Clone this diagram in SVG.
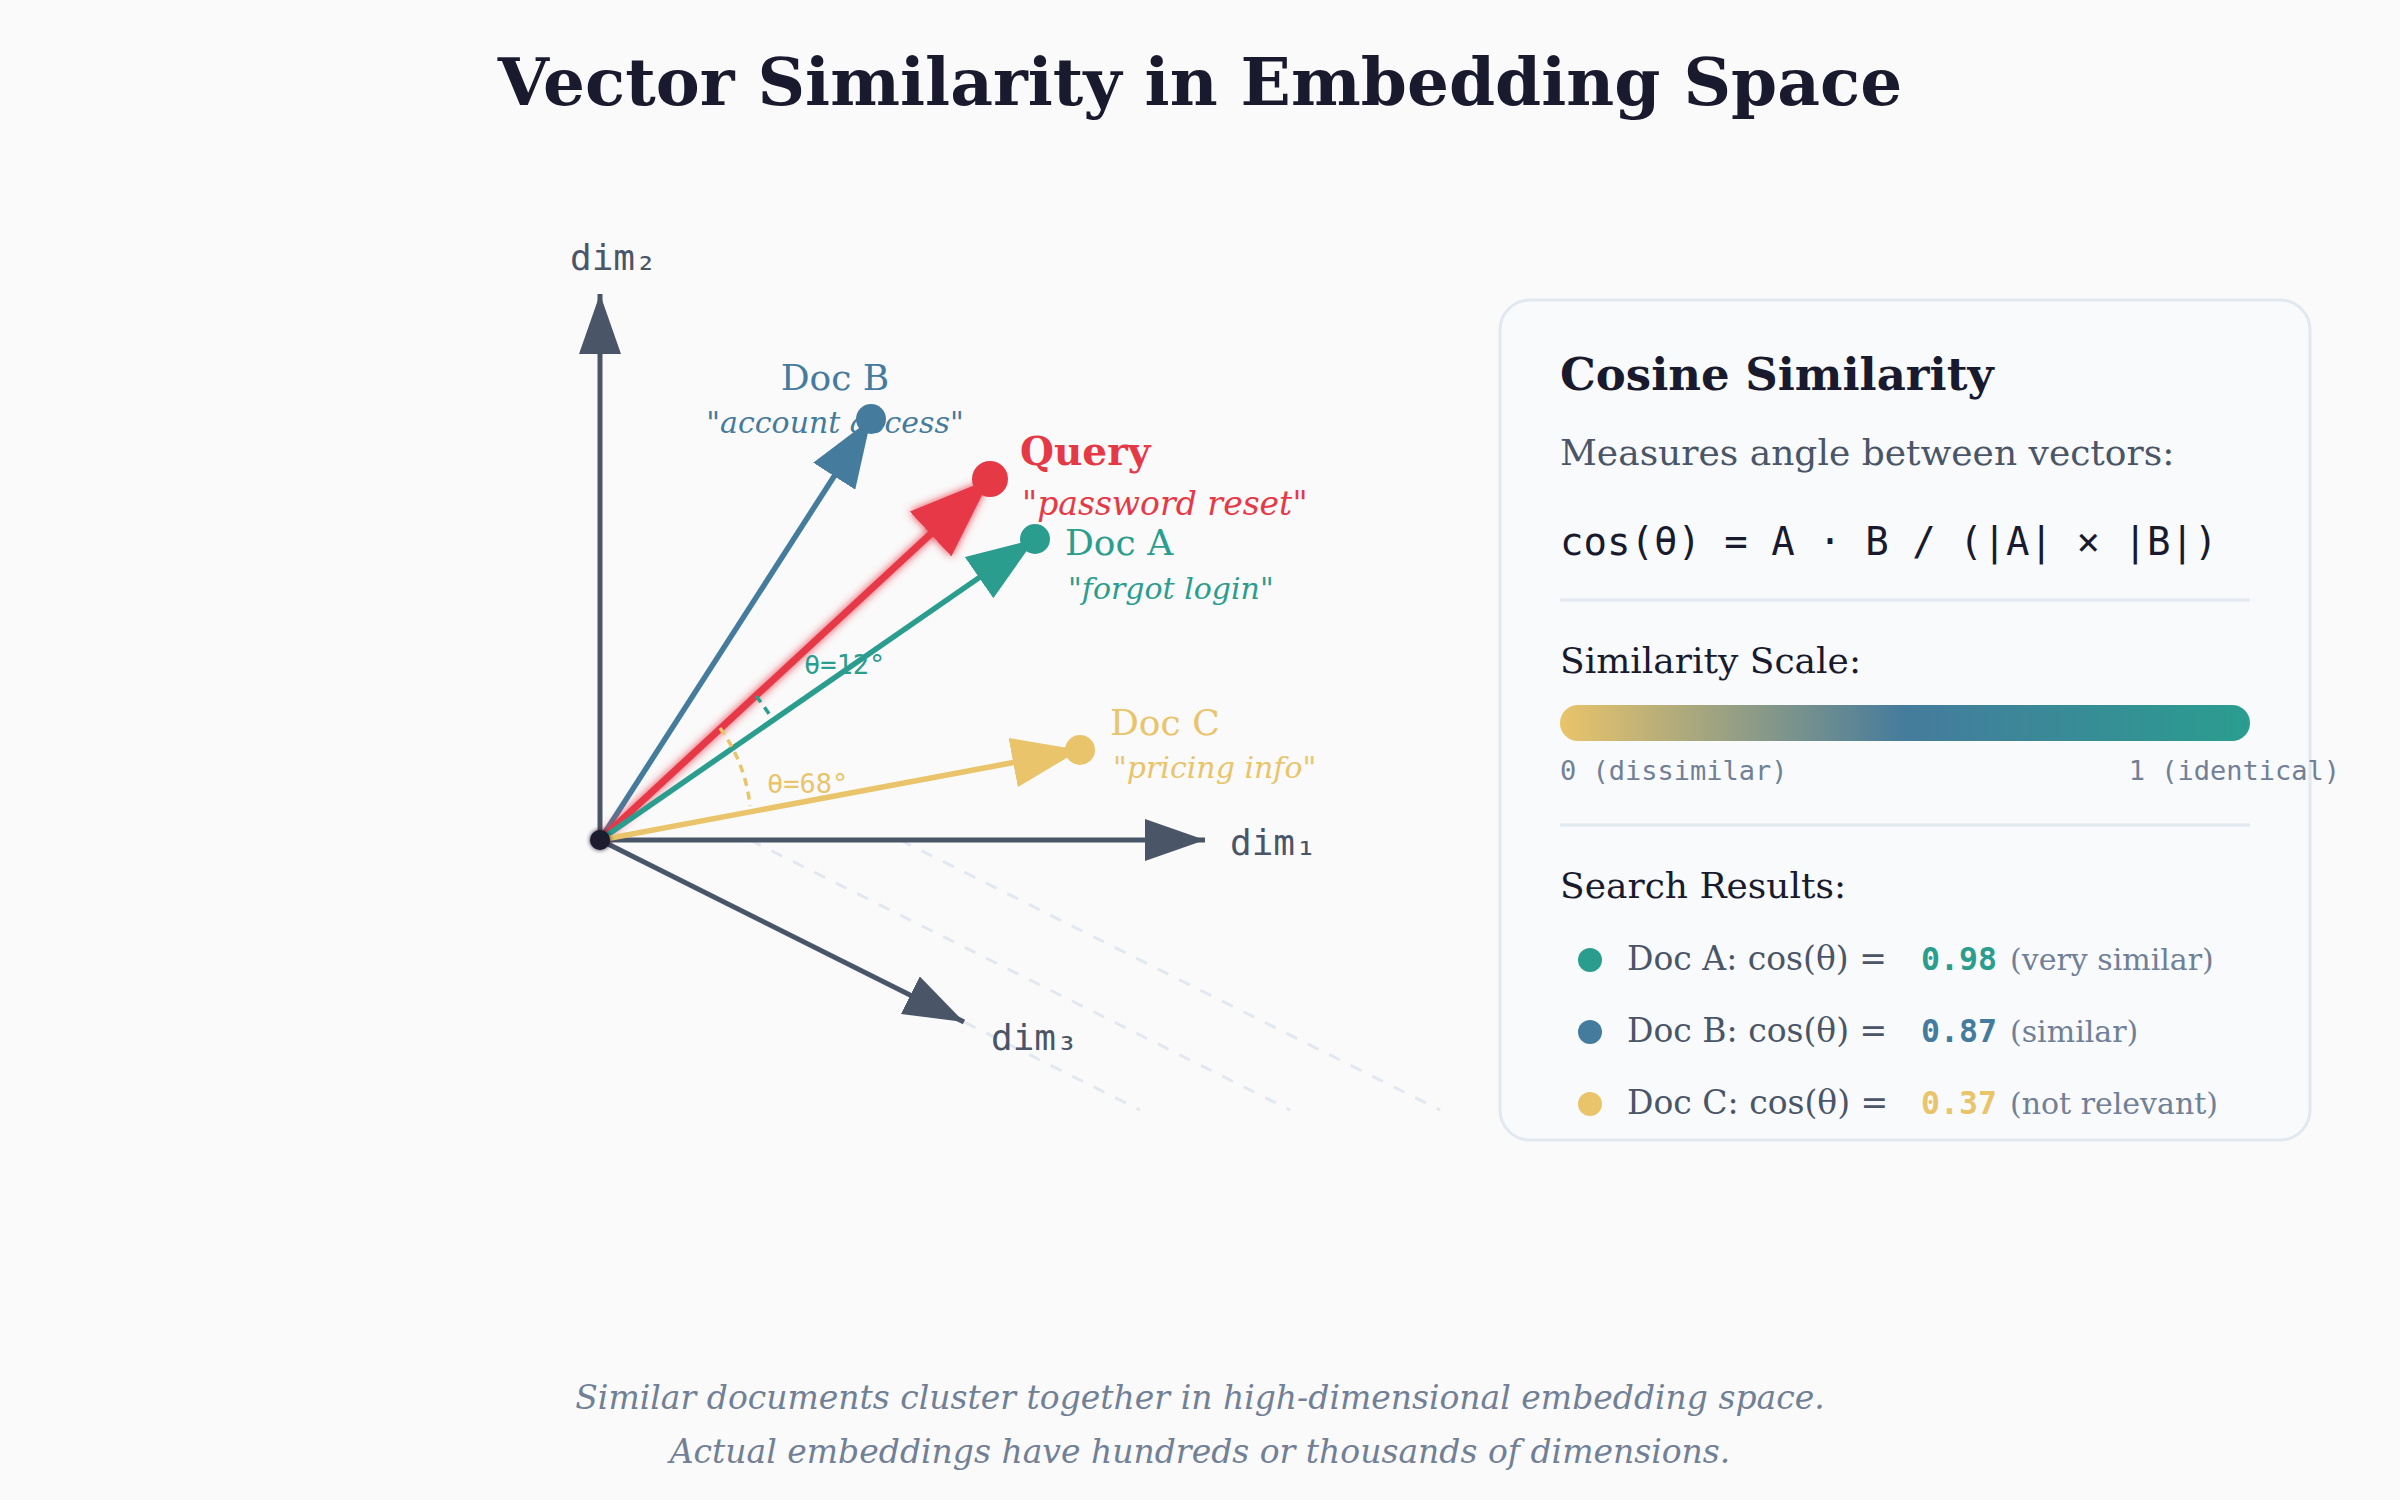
<svg xmlns="http://www.w3.org/2000/svg" width="2400" height="1500" viewBox="0 0 2400 1500">
<style>
.serif{font-family:"DejaVu Serif","Liberation Serif",serif}
.mono{font-family:"DejaVu Sans Mono","Liberation Mono",monospace}
.axis{stroke:#4a5568;stroke-width:5;fill:none}
.grid{stroke:#e2e8f0;stroke-width:3;stroke-dasharray:12 12;fill:none}
.dimlbl{font-size:36px;fill:#4a5568}
.row{font-size:33px;fill:#4a5568}
.val{font-size:31.5px;font-weight:bold}
.note{font-size:30px;fill:#718096}
.qt{font-style:italic;font-size:30px}
.doc{font-size:36px}
.ang{font-size:27px}
</style>
<defs>
<marker id="axisHead" markerUnits="userSpaceOnUse" markerWidth="60" markerHeight="42" viewBox="0 0 60 42" refX="60" refY="21" orient="auto"><path d="M0,0 L60,21 L0,42 Z" fill="#4a5568"/></marker>
<marker id="headA" markerUnits="userSpaceOnUse" markerWidth="68" markerHeight="50" viewBox="0 0 68 50" refX="68" refY="25" orient="auto"><path d="M0,0 L68,25 L0,50 Z" fill="#2a9d8f"/></marker>
<marker id="headB" markerUnits="userSpaceOnUse" markerWidth="68" markerHeight="50" viewBox="0 0 68 50" refX="68" refY="25" orient="auto"><path d="M0,0 L68,25 L0,50 Z" fill="#457b9d"/></marker>
<marker id="headC" markerUnits="userSpaceOnUse" markerWidth="68" markerHeight="50" viewBox="0 0 68 50" refX="68" refY="25" orient="auto"><path d="M0,0 L68,25 L0,50 Z" fill="#e9c46a"/></marker>
<marker id="headQ" markerUnits="userSpaceOnUse" markerWidth="81" markerHeight="61" viewBox="0 0 81 61" refX="81" refY="30.5" orient="auto"><path d="M0,0 L81,30.5 L0,61 Z" fill="#e63946"/></marker>
<filter id="glow" x="-20%" y="-20%" width="140%" height="140%"><feGaussianBlur in="SourceGraphic" stdDeviation="4" result="b"/><feMerge><feMergeNode in="b"/><feMergeNode in="SourceGraphic"/></feMerge></filter>
<filter id="soft" x="-50%" y="-50%" width="200%" height="200%"><feGaussianBlur in="SourceGraphic" stdDeviation="2" result="b"/><feMerge><feMergeNode in="b"/><feMergeNode in="SourceGraphic"/></feMerge></filter>
<linearGradient id="scale" x1="0" y1="0" x2="1" y2="0"><stop offset="0" stop-color="#e9c46a"/><stop offset="0.5" stop-color="#457b9d"/><stop offset="1" stop-color="#2a9d8f"/></linearGradient>
</defs>
<rect width="2400" height="1500" fill="#fafafa"/>
<text class="serif" x="1200" y="105" text-anchor="middle" font-size="66" font-weight="bold" fill="#1a1a2e">Vector Similarity in Embedding Space</text>

<g id="grid">
<line class="grid" x1="600" y1="840" x2="1140" y2="1110"/>
<line class="grid" x1="750" y1="840" x2="1290" y2="1110"/>
<line class="grid" x1="900" y1="840" x2="1440" y2="1110"/>
</g>

<g id="axes">
<line class="axis" x1="600" y1="840" x2="1205" y2="840" marker-end="url(#axisHead)"/>
<line class="axis" x1="600" y1="840" x2="600" y2="294" marker-end="url(#axisHead)"/>
<line class="axis" x1="600" y1="840" x2="964" y2="1022" marker-end="url(#axisHead)"/>
<text class="mono dimlbl" x="1230" y="855">dim₁</text>
<text class="mono dimlbl" x="570" y="270">dim₂</text>
<text class="mono dimlbl" x="991" y="1050">dim₃</text>
</g>

<g id="connectors">
<line x1="600" y1="840" x2="871" y2="419" stroke="#457b9d" stroke-width="5.5" marker-end="url(#headB)"/>
<line x1="600" y1="840" x2="990" y2="479" stroke="#e63946" stroke-width="7" marker-end="url(#headQ)" filter="url(#glow)"/>
<line x1="600" y1="840" x2="1035" y2="539" stroke="#2a9d8f" stroke-width="5.5" marker-end="url(#headA)"/>
<line x1="600" y1="840" x2="1080" y2="750" stroke="#e9c46a" stroke-width="5.5" marker-end="url(#headC)"/>
</g>

<g id="angles">
<path d="M756,696 A212,212 0 0 1 771,717" fill="none" stroke="#2a9d8f" stroke-width="3.5" stroke-dasharray="8 6"/>
<text class="mono ang" x="804" y="674" fill="#2a9d8f">θ=12°</text>
<path d="M720,728 A160,160 0 0 1 750,806" fill="none" stroke="#e9c46a" stroke-width="3.5" stroke-dasharray="8 6"/>
<text class="mono ang" x="767" y="793" fill="#e9c46a">θ=68°</text>
</g>

<circle id="origin" cx="600" cy="840" r="10" fill="#1a1a2e" filter="url(#soft)"/>

<g id="docB">
<circle cx="871" cy="419" r="15" fill="#457b9d"/>
<text class="serif doc" x="835" y="390" text-anchor="middle" fill="#457b9d">Doc B</text>
<text class="serif qt" x="835" y="433" text-anchor="middle" fill="#457b9d">"account access"</text>
</g>

<g id="query">
<circle cx="990" cy="479" r="18" fill="#e63946"/>
<text class="serif" x="1020" y="465" font-size="39" font-weight="bold" fill="#e63946">Query</text>
<text class="serif" x="1022" y="515" font-size="33" font-style="italic" fill="#e63946">"password reset"</text>
</g>

<g id="docA">
<circle cx="1035" cy="539" r="15" fill="#2a9d8f"/>
<text class="serif doc" x="1065" y="555" fill="#2a9d8f">Doc A</text>
<text class="serif qt" x="1068" y="599" fill="#2a9d8f">"forgot login"</text>
</g>

<g id="docC">
<circle cx="1080" cy="750" r="15" fill="#e9c46a"/>
<text class="serif doc" x="1110" y="735" fill="#e9c46a">Doc C</text>
<text class="serif qt" x="1113" y="778" fill="#e9c46a">"pricing info"</text>
</g>

<g id="panel">
<rect x="1500" y="300" width="810" height="840" rx="30" fill="#f8fafc" stroke="#e2e8f0" stroke-width="3"/>
<text class="serif" x="1560" y="390" font-size="45" font-weight="bold" fill="#1a1a2e">Cosine Similarity</text>
<text class="serif" x="1560" y="465" font-size="36" fill="#4a5568">Measures angle between vectors:</text>
<text class="mono" x="1560" y="555" font-size="39" fill="#1a1a2e">cos(θ) = A · B / (|A| × |B|)</text>
<line x1="1560" y1="600" x2="2250" y2="600" stroke="#e2e8f0" stroke-width="3"/>
<text class="serif" x="1560" y="673" font-size="36" fill="#1a1a2e">Similarity Scale:</text>
<rect x="1560" y="705" width="690" height="36" rx="18" fill="url(#scale)"/>
<text class="mono" x="1560" y="780" font-size="27" fill="#718096">0 (dissimilar)</text>
<text class="mono" x="2340" y="780" font-size="27" fill="#718096" text-anchor="end">1 (identical)</text>
<line x1="1560" y1="825" x2="2250" y2="825" stroke="#e2e8f0" stroke-width="3"/>
<text class="serif" x="1560" y="898" font-size="36" fill="#1a1a2e">Search Results:</text>
<circle cx="1590" cy="960" r="12" fill="#2a9d8f"/>
<text class="serif row" x="1627" y="970">Doc A: cos(θ) =</text>
<text class="mono val" x="1921" y="970" fill="#2a9d8f">0.98</text>
<text class="serif note" x="2010" y="970">(very similar)</text>
<circle cx="1590" cy="1032" r="12" fill="#457b9d"/>
<text class="serif row" x="1627" y="1042">Doc B: cos(θ) =</text>
<text class="mono val" x="1921" y="1042" fill="#457b9d">0.87</text>
<text class="serif note" x="2010" y="1042">(similar)</text>
<circle cx="1590" cy="1104" r="12" fill="#e9c46a"/>
<text class="serif row" x="1627" y="1114">Doc C: cos(θ) =</text>
<text class="mono val" x="1921" y="1114" fill="#e9c46a">0.37</text>
<text class="serif note" x="2010" y="1114">(not relevant)</text>
</g>

<g id="footer">
<text class="serif" x="1200" y="1409" text-anchor="middle" font-size="33" font-style="italic" fill="#718096">Similar documents cluster together in high-dimensional embedding space.</text>
<text class="serif" x="1200" y="1463" text-anchor="middle" font-size="33" font-style="italic" fill="#718096">Actual embeddings have hundreds or thousands of dimensions.</text>
</g>
</svg>
